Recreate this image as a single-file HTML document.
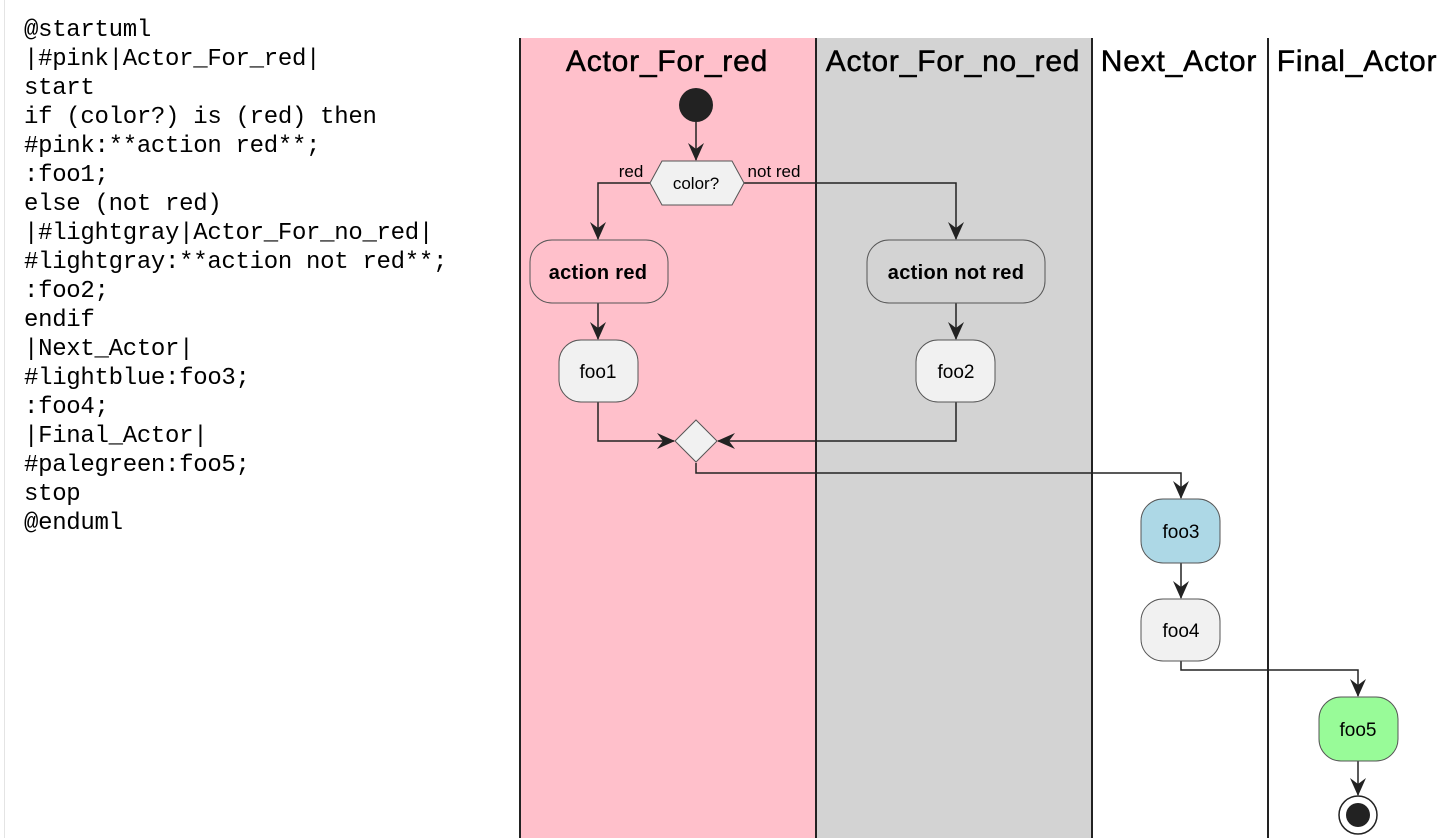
<!DOCTYPE html>
<html><head><meta charset="utf-8"><style>
body{margin:0;width:1452px;height:838px;background:#fff;overflow:hidden;position:relative}
pre{position:absolute;left:24px;top:16px;margin:0;font-family:"Liberation Mono",monospace;font-size:24px;line-height:29px;color:#000;letter-spacing:-0.3px}
svg{position:absolute;left:0;top:0}
</style></head><body>
<div style="position:absolute;left:4px;top:0;width:1px;height:838px;background:#e4e4e4"></div>
<pre>@startuml
|#pink|Actor_For_red|
start
if (color?) is (red) then
#pink:**action red**;
:foo1;
else (not red)
|#lightgray|Actor_For_no_red|
#lightgray:**action not red**;
:foo2;
endif
|Next_Actor|
#lightblue:foo3;
:foo4;
|Final_Actor|
#palegreen:foo5;
stop
@enduml</pre>
<svg width="1452" height="838" font-family="'Liberation Sans',Arial,sans-serif">
<rect x="520" y="38" width="296" height="800" fill="#ffc0cb"/>
<rect x="816" y="38" width="276" height="800" fill="#d3d3d3"/>
<g stroke="#222" stroke-width="2">
<line x1="520" y1="38" x2="520" y2="838"/><line x1="816" y1="38" x2="816" y2="838"/>
<line x1="1092" y1="38" x2="1092" y2="838"/><line x1="1268" y1="38" x2="1268" y2="838"/>
</g>
<g font-size="30" text-anchor="middle" fill="#000" stroke="#000" stroke-width="0.5" letter-spacing="0.8">
<text x="667" y="71">Actor_For_red</text>
<text x="953" y="71">Actor_For_no_red</text>
<text x="1179" y="71">Next_Actor</text>
<text x="1357" y="71">Final_Actor</text>
</g>
<circle cx="696" cy="105" r="17" fill="#222"/>
<g stroke="#222" stroke-width="1.5" fill="none">
<line x1="696" y1="122" x2="696" y2="160"/>
<polyline points="650,183 598,183 598,239"/>
<polyline points="744,183 956,183 956,239"/>
<line x1="598" y1="303" x2="598" y2="339"/>
<line x1="956" y1="303" x2="956" y2="339"/>
<polyline points="598,402 598,441 674,441"/>
<polyline points="956,402 956,441 718,441"/>
<polyline points="696,463 696,473 1181,473 1181,498"/>
<line x1="1181" y1="563" x2="1181" y2="598"/>
<polyline points="1181,661 1181,670 1358,670 1358,696"/>
<line x1="1358" y1="761" x2="1358" y2="795"/>
</g>
<g fill="#222">
<path d="M696,161 l-8,-18 l8,6 l8,-6z"/>
<path d="M598,240 l-8,-18 l8,6 l8,-6z"/>
<path d="M956,240 l-8,-18 l8,6 l8,-6z"/>
<path d="M598,340 l-8,-18 l8,6 l8,-6z"/>
<path d="M956,340 l-8,-18 l8,6 l8,-6z"/>
<path d="M675,441 l-18,-8 l6,8 l-6,8z"/>
<path d="M717,441 l18,-8 l-6,8 l6,8z"/>
<path d="M1181,499 l-8,-18 l8,6 l8,-6z"/>
<path d="M1181,599 l-8,-18 l8,6 l8,-6z"/>
<path d="M1358,697 l-8,-18 l8,6 l8,-6z"/>
<path d="M1358,796 l-8,-18 l8,6 l8,-6z"/>
</g>
<polygon points="650,183 662,161 732,161 744,183 732,205 662,205" fill="#f1f1f1" stroke="#555" stroke-width="1"/>
<polygon points="696,420 717,441 696,462 675,441" fill="#f1f1f1" stroke="#555" stroke-width="1"/>
<g stroke="#555" stroke-width="1">
<rect x="530" y="240" width="138" height="63" rx="22" fill="#ffc0cb"/>
<rect x="867" y="240" width="178" height="63" rx="22" fill="#d3d3d3"/>
<rect x="559" y="340" width="79" height="62" rx="22" fill="#f1f1f1"/>
<rect x="916" y="340" width="79" height="62" rx="22" fill="#f1f1f1"/>
<rect x="1141" y="499" width="79" height="64" rx="22" fill="#add8e6"/>
<rect x="1141" y="599" width="79" height="62" rx="22" fill="#f1f1f1"/>
<rect x="1319" y="697" width="79" height="64" rx="22" fill="#98fb98"/>
</g>
<circle cx="1358" cy="815" r="19" fill="#fff" stroke="#222" stroke-width="1.5"/>
<circle cx="1358" cy="815" r="12" fill="#222"/>
<g font-size="17" fill="#000" text-anchor="middle">
<text x="696" y="189">color?</text>
<text x="631" y="177">red</text>
<text x="774" y="177">not red</text>
<text x="598" y="279" font-weight="bold" font-size="20" letter-spacing="0.3">action red</text>
<text x="956" y="279" font-weight="bold" font-size="20" letter-spacing="0.3">action not red</text>
<text x="598" y="378" font-size="19">foo1</text>
<text x="956" y="378" font-size="19">foo2</text>
<text x="1181" y="538" font-size="19">foo3</text>
<text x="1181" y="637" font-size="19">foo4</text>
<text x="1358" y="736" font-size="19">foo5</text>
</g>
</svg>
</body></html>
